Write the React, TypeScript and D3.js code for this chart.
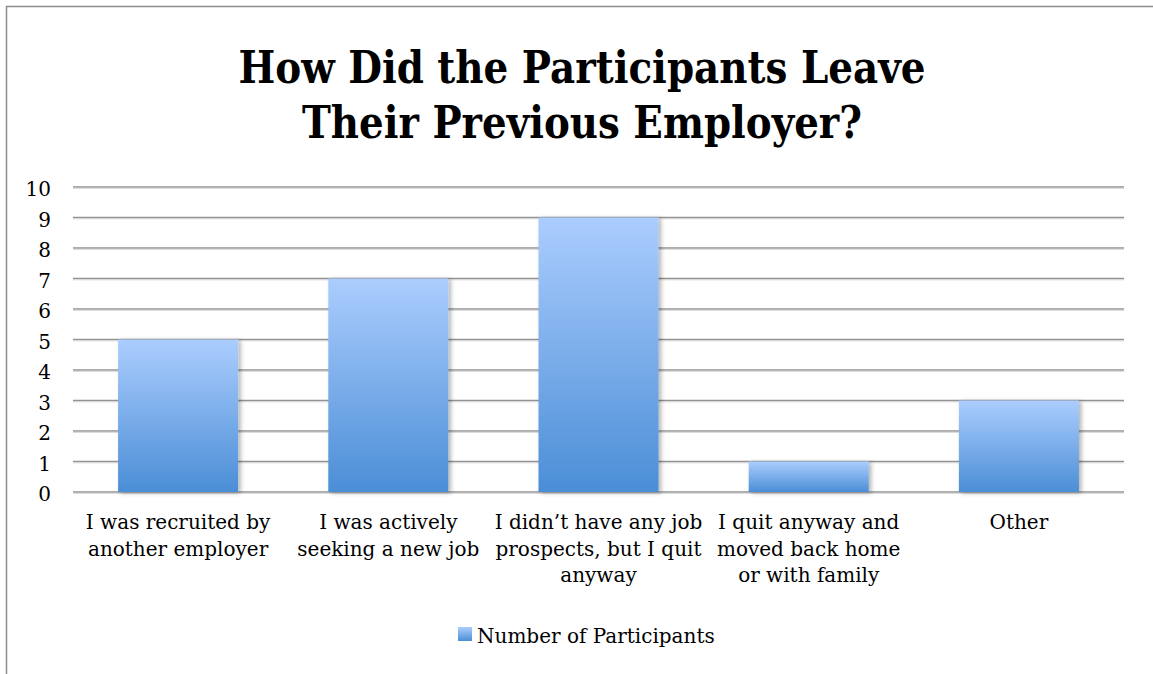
import React from "react";
import * as d3 from "d3";

const titleLines = ["How Did the Participants Leave", "Their Previous Employer?"];
const categories = [
  "I was recruited by\nanother employer",
  "I was actively\nseeking a new job",
  "I didn’t have any job\nprospects, but I quit\nanyway",
  "I quit anyway and\nmoved back home\nor with family",
  "Other",
];
const values = [5, 7, 9, 1, 3];
const yTicks = [0, 1, 2, 3, 4, 5, 6, 7, 8, 9, 10];
const seriesName = "Number of Participants";

const W = 1153;
const H = 674;
const FONT = "'DejaVu Serif', 'Liberation Serif', serif";

export default function App() {
  const x = d3
    .scaleBand<string>()
    .domain(categories)
    .range([73, 1124])
    .paddingInner(0.429)
    .paddingOuter(0.2145);
  const y = d3.scaleLinear().domain([0, 10]).range([492, 187]);

  return (
    <svg
      width={W}
      height={H}
      style={{ position: "absolute", left: 0, top: 0, background: "#fff" }}
      fontFamily={FONT}
    >
      <defs>
        <linearGradient id="barGrad" x1="0" y1="0" x2="0" y2="1">
          <stop offset="0%" stopColor="#abcdfe" />
          <stop offset="100%" stopColor="#4b8ed6" />
        </linearGradient>
        <filter id="shadow" x="-10%" y="-10%" width="125%" height="125%">
          <feDropShadow dx="2.5" dy="1" stdDeviation="2" floodColor="#000" floodOpacity="0.3" />
        </filter>
      </defs>
      <rect x={0} y={0} width={W} height={H} fill="#fff" />
      <rect x={6.5} y={6.5} width={1200} height={720} fill="none" stroke="#8c8c8c" strokeWidth={1.5} />

      {titleLines.map((t, i) => (
        <text
          key={t}
          x={582}
          y={83 + i * 55}
          textAnchor="middle"
          fontWeight="bold"
          fontSize={45}
          textLength={i === 0 ? 687 : 560}
          lengthAdjust="spacingAndGlyphs"
          fill="#000"
        >
          {t}
        </text>
      ))}

      {yTicks.map((v) => (
        <g key={v}>
          <line x1={73} x2={1124} y1={y(v)} y2={y(v)} stroke="#929292" strokeWidth={1.3} />
          <line x1={73} x2={1124} y1={y(v) + 1.3} y2={y(v) + 1.3} stroke="#d4d4d4" strokeWidth={1} />
          <text x={51} y={y(v) + 9} textAnchor="end" fontSize={20} fill="#000">
            {v}
          </text>
        </g>
      ))}

      {categories.map((c, i) => (
        <rect
          key={c}
          x={x(c)}
          y={y(values[i])}
          width={x.bandwidth()}
          height={y(0) - y(values[i])}
          fill="url(#barGrad)"
          filter="url(#shadow)"
        />
      ))}

      {categories.map((c) => {
        const cx = (x(c) as number) + x.bandwidth() / 2;
        return (
          <text key={c} textAnchor="middle" fontSize={20} fill="#000">
            {c.split("\n").map((line, j) => (
              <tspan key={j} x={cx} y={529 + j * 26.5}>
                {line}
              </tspan>
            ))}
          </text>
        );
      })}

      <rect x={458} y={627} width={14} height={14} fill="url(#barGrad)" />
      <text x={477} y={643} fontSize={20} fill="#000">
        {seriesName}
      </text>
    </svg>
  );
}
